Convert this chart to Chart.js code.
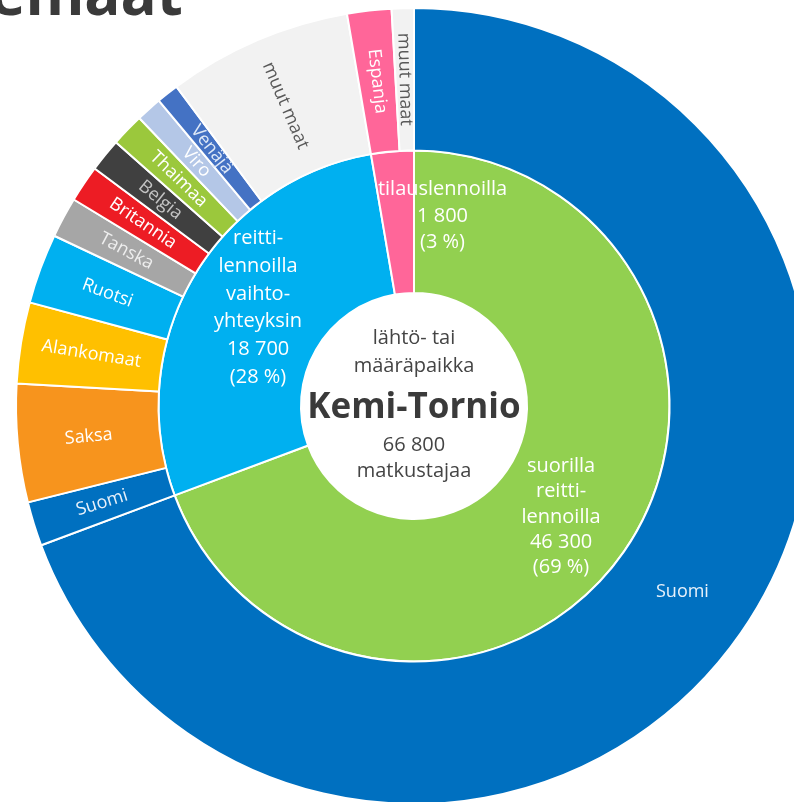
<!DOCTYPE html>
<html lang="fi">
<head>
<meta charset="utf-8">
<title>Kemi-Tornio – matkustajat</title>
<script src="https://cdn.jsdelivr.net/npm/chart.js@4.4.0/dist/chart.umd.min.js"></script>
<style>
  html, body { margin: 0; padding: 0; background: #fff; overflow: hidden; }
  body { width: 794px; height: 802px; position: relative; }
  .title {
    position: absolute; left: -10px; top: -38px;
    font: bold 60px 'Open Sans', sans-serif; line-height: 60px;
    color: #3a3a3a; white-space: nowrap;
  }
  #wrap { position: absolute; left: -1px; top: -9px; width: 830px; height: 830px; }
</style>
</head>
<body>
<div class="title">emaat</div>
<div id="wrap"><canvas id="sunburst" width="830" height="830"></canvas></div>
<script>
// Kemi-Tornio: passengers by flight type (inner) and country (outer)
const innerCategories = ['suorilla reittilennoilla', 'reittilennoilla vaihtoyhteyksin', 'tilauslennoilla'];
const innerValues = [46300, 18700, 1800];
const innerLines = [
  ['suorilla', 'reitti-', 'lennoilla'],
  ['reitti-', 'lennoilla', 'vaihto-', 'yhteyksin'],
  ['tilauslennoilla']
];

const outerCountries = ['Suomi', 'Suomi', 'Saksa', 'Alankomaat', 'Ruotsi', 'Tanska', 'Britannia',
  'Belgia', 'Thaimaa', 'Viro', 'Venäjä', 'muut maat', 'Espanja', 'muut maat'];
const outerValues = [46300, 1200, 3200, 2200, 1900, 1100, 1000, 900, 900, 700, 600, 5000, 1200, 600];

const centerLines = ['lähtö- tai', 'määräpaikka'];
const centerName = 'Kemi-Tornio';
const centerUnit = 'matkustajaa';

// styles
const innerColors = ['#92D050', '#00B0F0', '#FF6699'];
const innerLineHeights = [25.3, 27.8, 26.5];
const outerColors = ['#0070C0', '#0070C0', '#F7941D', '#FFC000', '#00B0F0', '#A6A6A6', '#ED1C24',
  '#404040', '#9BC83C', '#B4C7E7', '#4472C4', '#F2F2F2', '#FF6699', '#F2F2F2'];
const outerTextColors = ['#e8f1fa', '#e8f1fa', '#ffffff', '#ffffff', '#ffffff', '#eeeeee', '#ffffff',
  '#c4c4c4', '#ffffff', '#ffffff', '#dfe9f7', '#595959', '#ffffff', '#595959'];

const total = innerValues.reduce((a, b) => a + b, 0);
const fmt = n => String(n).replace(/\B(?=(\d{3})+(?!\d))/g, ' ');

const sunburstLabels = {
  id: 'sunburstLabels',
  afterDatasetsDraw(chart) {
    const ctx = chart.ctx;
    const props = ['x', 'y', 'startAngle', 'endAngle', 'innerRadius', 'outerRadius'];
    ctx.save();
    ctx.textAlign = 'center';
    ctx.textBaseline = 'middle';

    // outer ring: country names along the radius
    ctx.font = '18px "Open Sans"';
    chart.getDatasetMeta(0).data.forEach((arc, i) => {
      const p = arc.getProps(props, true);
      const mid = (p.startAngle + p.endAngle) / 2;
      const r = (p.innerRadius + p.outerRadius) / 2;
      const big = p.endAngle - p.startAngle > Math.PI / 2;
      ctx.save();
      ctx.translate(p.x + r * Math.cos(mid), p.y + r * Math.sin(mid));
      if (!big) ctx.rotate(Math.atan(Math.tan(mid)));
      ctx.fillStyle = outerTextColors[i];
      ctx.fillText(outerCountries[i], 0, 0);
      ctx.restore();
    });

    // inner ring: flight type, count and share
    ctx.font = '20px "Open Sans"';
    ctx.fillStyle = '#ffffff';
    chart.getDatasetMeta(1).data.forEach((arc, i) => {
      const p = arc.getProps(props, true);
      const span = p.endAngle - p.startAngle;
      const thin = span < 0.3;
      // the thin charter slice gets its text pushed over the boundary
      const a = (p.startAngle + p.endAngle) / 2 + (thin ? span * 1.38 : 0.04);
      const r = (p.innerRadius + p.outerRadius) / 2 + (thin ? 8 : 0);
      const lh = innerLineHeights[i];
      const lines = innerLines[i].concat([fmt(innerValues[i]), '(' + Math.round(innerValues[i] / total * 100) + ' %)']);
      const cx = p.x + r * Math.cos(a);
      const cy = p.y + r * Math.sin(a);
      lines.forEach((t, k) => ctx.fillText(t, cx, cy + (k - (lines.length - 1) / 2) * lh));
    });

    // centre text
    const c = chart.getDatasetMeta(1).data[0];
    ctx.fillStyle = '#444444';
    ctx.font = '20px "Open Sans"';
    ctx.fillText(centerLines[0], c.x, c.y - 68);
    ctx.fillText(centerLines[1], c.x, c.y - 40);
    ctx.fillText(fmt(total), c.x, c.y + 39);
    ctx.fillText(centerUnit, c.x, c.y + 65);
    ctx.fillStyle = '#3a3a3a';
    ctx.font = 'bold 35px "Open Sans"';
    ctx.fillText(centerName, c.x, c.y + 2);
    ctx.restore();
  }
};

const chart = new Chart(document.getElementById('sunburst').getContext('2d'), {
  type: 'doughnut',
  data: {
    labels: outerCountries,
    datasets: [
      { data: outerValues, backgroundColor: outerColors, borderColor: '#ffffff', borderWidth: 2 },
      { data: innerValues, backgroundColor: innerColors, borderColor: '#ffffff', borderWidth: 2 }
    ]
  },
  options: {
    responsive: false,
    animation: false,
    radius: 398,
    cutout: '28.4%',
    layout: { padding: 0 },
    plugins: {
      legend: { display: false },
      tooltip: { enabled: false }
    }
  },
  plugins: [sunburstLabels]
});
</script>
</body>
</html>
